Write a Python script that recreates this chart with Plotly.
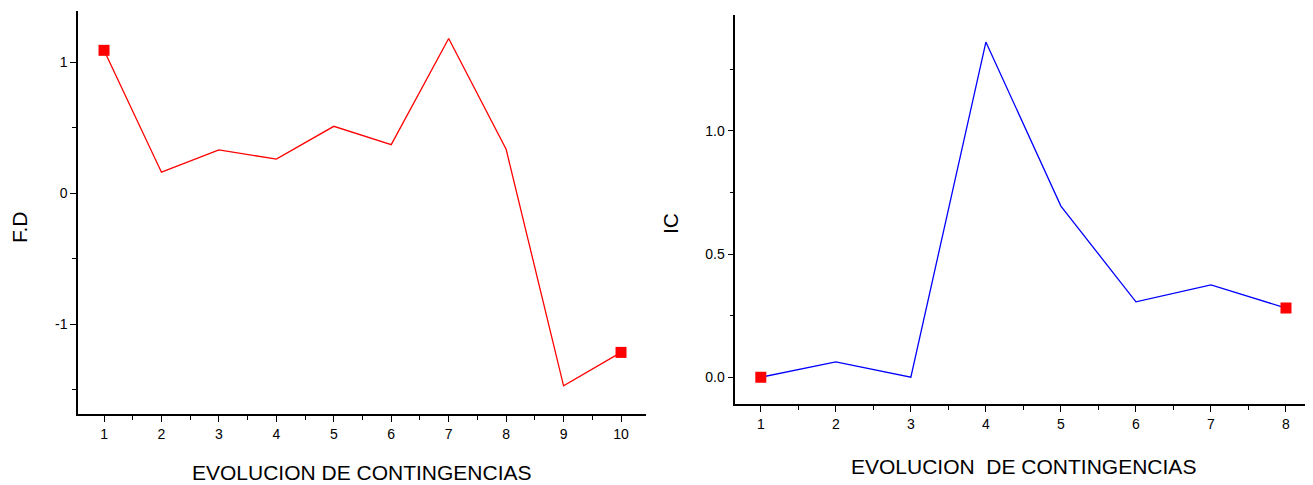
import plotly.graph_objects as go

# left panel: F.D vs contingency step
fd_x = [1, 2, 3, 4, 5, 6, 7, 8, 9, 10]
fd_y = [1.09, 0.16, 0.33, 0.26, 0.51, 0.37, 1.18, 0.335, -1.47, -1.215]
fd_ticks = [-1, 0, 1]
fd_ticktext = ["-1", "0", "1"]

# right panel: IC vs contingency step
ic_x = [1, 2, 3, 4, 5, 6, 7, 8]
ic_y = [0.0, 0.062, 0.0, 1.361, 0.695, 0.306, 0.375, 0.281]

x_title = "EVOLUCION DE CONTINGENCIAS"
x_title_right = "EVOLUCION&nbsp; DE CONTINGENCIAS"

FONT = "Liberation Sans, Arial, sans-serif"

# the page body has an 8px margin, so the figure starts at (8, 8) in the window
OFF = 8
W, H = 1313 - OFF, 485 - OFF


def px_x(x):
    return (x - OFF) / W


def px_y(y):
    return 1 - (y - OFF) / H


fig = go.Figure()
fig.add_trace(go.Scatter(x=fd_x, y=fd_y, mode="lines", line=dict(color="#ff0000", width=1.3),
                         xaxis="x", yaxis="y", showlegend=False))
fig.add_trace(go.Scatter(x=[fd_x[0], fd_x[-1]], y=[fd_y[0], fd_y[-1]], mode="markers",
                         marker=dict(symbol="square", size=11, color="#ff0000"),
                         xaxis="x", yaxis="y", showlegend=False))
fig.add_trace(go.Scatter(x=ic_x, y=ic_y, mode="lines", line=dict(color="#0000ff", width=1.3),
                         xaxis="x2", yaxis="y2", showlegend=False))
fig.add_trace(go.Scatter(x=[ic_x[0], ic_x[-1]], y=[ic_y[0], ic_y[-1]], mode="markers",
                         marker=dict(symbol="square", size=11, color="#ff0000"),
                         xaxis="x2", yaxis="y2", showlegend=False))

axis_common = dict(
    showline=True, linecolor="black", linewidth=1.5, showgrid=False, zeroline=False,
    ticks="outside", tickcolor="black", tickwidth=1.3, ticklen=6, automargin=False,
    tickfont=dict(family=FONT, size=14, color="black"),
)
minor = dict(ticks="outside", ticklen=4, tickcolor="black", tickwidth=1.2)

fig.update_layout(
    template="none",
    width=W, height=H,
    margin=dict(l=0, r=0, t=0, b=0),
    paper_bgcolor="white", plot_bgcolor="white",
    xaxis=dict(axis_common, domain=[px_x(78), px_x(646)], range=[0.547, 10.435], dtick=1, tick0=1,
               anchor="y", minor=dict(minor, dtick=0.5, tick0=0.5)),
    yaxis=dict(axis_common, domain=[px_y(414), px_y(11)], range=[-1.685, 1.39],
               tickmode="array", tickvals=fd_ticks, ticktext=fd_ticktext,
               anchor="x", minor=dict(minor, dtick=0.5, tick0=0.5, tickmode="linear")),
    xaxis2=dict(axis_common, domain=[px_x(735.3), 1.0], range=[0.66, 8.36], dtick=1, tick0=1,
                anchor="y2", minor=dict(minor, dtick=0.5, tick0=0.5)),
    yaxis2=dict(axis_common, domain=[px_y(404.3), px_y(15)], range=[-0.11, 1.471], dtick=0.5, tick0=0,
                tickformat=".1f", anchor="x2", minor=dict(minor, dtick=0.25, tick0=0.25)),
    annotations=[
        dict(text=x_title, x=px_x(362), y=px_y(472)),
        dict(text=x_title_right, x=px_x(1023), y=px_y(466)),
        dict(text="F.D", x=px_x(19), y=px_y(227), textangle=-90),
        dict(text="IC", x=px_x(670), y=px_y(224), textangle=-90),
    ],
)
fig.update_annotations(xref="paper", yref="paper", xanchor="center", yanchor="middle",
                       showarrow=False, font=dict(family=FONT, size=21, color="black"))

fig.write_html("out.html")
